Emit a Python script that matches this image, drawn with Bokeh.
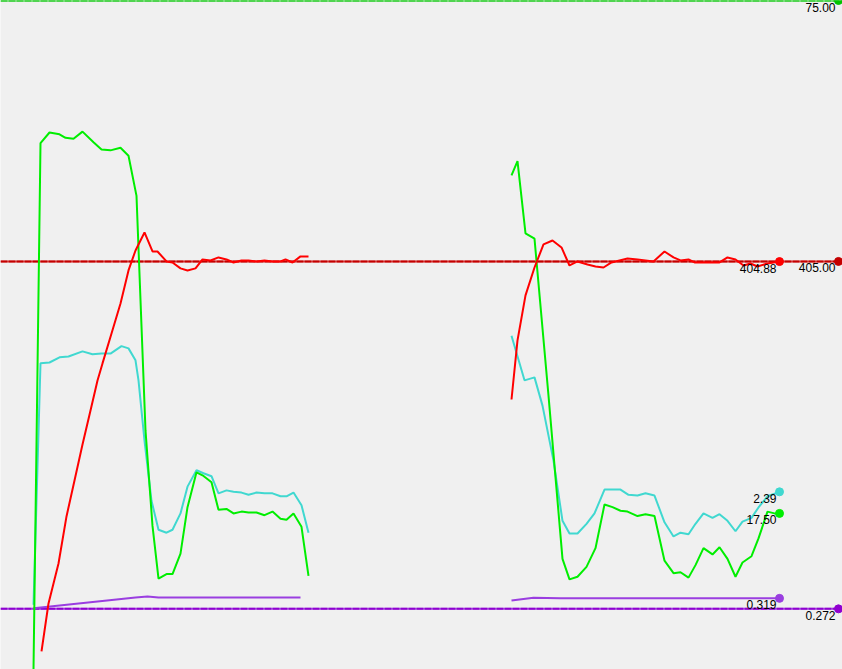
from bokeh.plotting import figure
from bokeh.models import Range1d
from bokeh.core.properties import value
from bokeh.embed import file_html
from bokeh.resources import INLINE

# ---------------- data (time axis in seconds, values in each channel's own unit) ----------------
# left run
green_x1 = [33, 40, 49, 59, 65, 73, 82, 93, 101, 110, 120, 128, 136, 145, 152, 158, 166, 172, 180, 187,
            196, 203, 211, 218, 226, 233, 241, 248, 256, 264, 272, 280, 286, 293, 301, 308]
green_v1 = [0.0, 59.0, 60.2, 60.0, 59.6, 59.5, 60.3, 59.1, 58.3, 58.2, 58.5, 57.6, 53.1, 26.8, 16.1, 10.2,
            10.7, 10.7, 13.0, 18.2, 22.1, 21.7, 21.0, 17.9, 18.0, 17.5, 17.7, 17.6, 17.6, 17.3, 17.7, 16.9,
            16.8, 17.5, 16.0, 10.5]

cyan_x1 = [33, 40, 49, 59, 68, 82, 92, 101, 110, 121, 128, 135, 138, 144, 151, 158, 166, 172, 180, 187,
           196, 203, 211, 218, 226, 233, 241, 248, 256, 264, 272, 280, 286, 293, 301, 308]
cyan_v1 = [0.87, 4.12, 4.13, 4.20, 4.21, 4.28, 4.24, 4.25, 4.25, 4.35, 4.32, 4.16, 3.89, 3.08, 2.27, 1.88,
           1.84, 1.88, 2.10, 2.46, 2.68, 2.64, 2.60, 2.37, 2.41, 2.39, 2.38, 2.35, 2.38, 2.37, 2.37, 2.33,
           2.33, 2.38, 2.21, 1.84]

red_x1 = [41, 48, 58, 66, 74, 82, 90, 97, 102, 111, 120, 128, 135, 144, 152, 157, 166, 172, 180, 187,
          195, 202, 210, 218, 226, 233, 241, 248, 256, 264, 272, 280, 285, 292, 300, 308]
red_v1 = [17.9, 65.5, 105.2, 151.9, 187.6, 223.3, 257.1, 286.9, 303.8, 333.5, 363.3, 396.1, 415.9, 433.8,
          414.9, 414.9, 405.0, 404.0, 398.1, 396.1, 398.1, 407.0, 406.0, 409.0, 407.0, 404.0, 406.0, 406.0,
          405.0, 406.0, 405.0, 405.0, 407.0, 404.0, 410.0, 410.0]

purple_x1 = [33, 135, 147, 158, 300]
purple_v1 = [0.275, 0.323, 0.327, 0.323, 0.323]

# right run
green_x2 = [511, 517, 525, 534, 548, 562, 569, 577, 586, 595, 604, 612, 620, 627, 637, 645, 654, 664, 673,
            680, 688, 695, 703, 712, 719, 727, 735, 742, 751, 758, 767, 774, 779]
green_v2 = [55.4, 57.0, 48.9, 48.3, 30.7, 12.4, 10.1, 10.4, 11.5, 13.6, 18.5, 18.2, 17.8, 17.7, 17.2, 17.4,
            17.2, 12.2, 10.8, 10.9, 10.3, 11.7, 13.6, 12.9, 13.7, 12.4, 10.4, 12.0, 12.7, 14.7, 17.7, 17.5, 17.5]

cyan_x2 = [511, 524, 534, 542, 553, 562, 569, 577, 586, 594, 604, 612, 620, 628, 637, 645, 654, 664, 673,
           680, 688, 695, 703, 712, 719, 727, 735, 742, 751, 758, 767, 779]
cyan_v2 = [4.49, 3.89, 3.93, 3.55, 2.81, 2.00, 1.83, 1.83, 1.96, 2.10, 2.42, 2.42, 2.42, 2.35, 2.34, 2.37,
           2.34, 1.98, 1.79, 1.84, 1.82, 1.96, 2.10, 2.04, 2.09, 2.00, 1.86, 1.99, 2.04, 2.18, 2.33, 2.39]

red_x2 = [511, 517, 525, 534, 543, 552, 561, 569, 577, 587, 595, 603, 611, 619, 627, 637, 645, 653, 664,
          673, 680, 688, 694, 703, 711, 719, 727, 735, 743, 750, 757, 767, 779]
red_v2 = [268.0, 326.6, 371.3, 399.0, 421.9, 425.8, 418.9, 401.0, 405.0, 402.0, 400.0, 399.0, 404.0, 406.0,
          408.0, 407.0, 406.0, 405.0, 414.9, 409.0, 406.0, 407.0, 404.0, 404.0, 404.0, 404.0, 409.0, 407.0,
          401.0, 403.0, 400.0, 403.0, 404.88]

purple_x2 = [511, 533, 560, 779]
purple_v2 = [0.309, 0.322, 0.320, 0.319]

# set points (reference lines)
green_ref = 75.00
red_ref = 405.00
purple_ref = 0.272

# ---------------- figure ----------------
W, H = 842, 669
X0, X1 = 0, 842
REF_DOT_X = 838

p = figure(width=W, height=H, output_backend="svg", toolbar_location=None,
           x_range=Range1d(X0, X1), y_range=Range1d(0, 75),
           min_border=0, min_border_left=0, min_border_right=0,
           min_border_top=0, min_border_bottom=0)
p.extra_y_ranges = {
    "red": Range1d(0, 664),
    "cyan": Range1d(0, 9),
    "purple": Range1d(0, 3),
}
p.xaxis.visible = False
p.yaxis.visible = False
p.xgrid.visible = False
p.ygrid.visible = False
p.outline_line_color = None
p.background_fill_color = "#f0f0f0"
p.border_fill_color = "#f0f0f0"

GREEN = "#00ee00"
RED = "#ff0000"
CYAN = "#40d8d0"
PURPLE = "#9a3ee0"
FONT = value("Liberation Sans")


def ref_line(v, rng, light, dark):
    kw = {} if rng is None else {"y_range_name": rng}
    p.line([X0, X1], [v, v], line_color=light, line_width=2, **kw)
    p.line([X0, X1], [v, v], line_color=dark, line_width=2, line_dash="7 1", **kw)
    p.scatter([REF_DOT_X], [v], size=8, color=dark, **kw)


ref_line(green_ref, None, "#50d850", "#00c400")
ref_line(red_ref, "red", "#e06060", "#c40000")
ref_line(purple_ref, "purple", "#b070e8", "#9000d0")

# series
p.line(purple_x1, purple_v1, line_color=PURPLE, line_width=2, y_range_name="purple")
p.line(purple_x2, purple_v2, line_color=PURPLE, line_width=2, y_range_name="purple")
p.line(cyan_x1, cyan_v1, line_color=CYAN, line_width=2, y_range_name="cyan")
p.line(cyan_x2, cyan_v2, line_color=CYAN, line_width=2, y_range_name="cyan")
p.line(green_x1, green_v1, line_color=GREEN, line_width=2)
p.line(green_x2, green_v2, line_color=GREEN, line_width=2)
p.line(red_x1, red_v1, line_color=RED, line_width=2, y_range_name="red")
p.line(red_x2, red_v2, line_color=RED, line_width=2, y_range_name="red")

# end dots of the last run
p.scatter([green_x2[-1]], [green_v2[-1]], size=8, color=GREEN)
p.scatter([red_x2[-1]], [red_v2[-1]], size=8, color=RED, y_range_name="red")
p.scatter([cyan_x2[-1]], [cyan_v2[-1]], size=8, color=CYAN, y_range_name="cyan")
p.scatter([purple_x2[-1]], [purple_v2[-1]], size=8, color=PURPLE, y_range_name="purple")


def label(x, v, txt, rng=None):
    kw = {} if rng is None else {"y_range_name": rng}
    p.text([x], [v], text=[txt], text_font=FONT, text_font_size="12px", text_color="#000000",
           text_align="right", text_baseline="top", x_offset=-3, y_offset=2, **kw)


label(REF_DOT_X, green_ref, f"{green_ref:.2f}")
label(REF_DOT_X, red_ref, f"{red_ref:.2f}", "red")
label(REF_DOT_X, purple_ref, f"{purple_ref:.3f}", "purple")
label(red_x2[-1], red_v2[-1], f"{red_v2[-1]:.2f}", "red")
label(cyan_x2[-1], cyan_v2[-1], f"{cyan_v2[-1]:.2f}", "cyan")
label(green_x2[-1], green_v2[-1], f"{green_v2[-1]:.2f}")
label(purple_x2[-1], purple_v2[-1], f"{purple_v2[-1]:.3f}", "purple")

open("out.html", "w").write(file_html(p, INLINE))
